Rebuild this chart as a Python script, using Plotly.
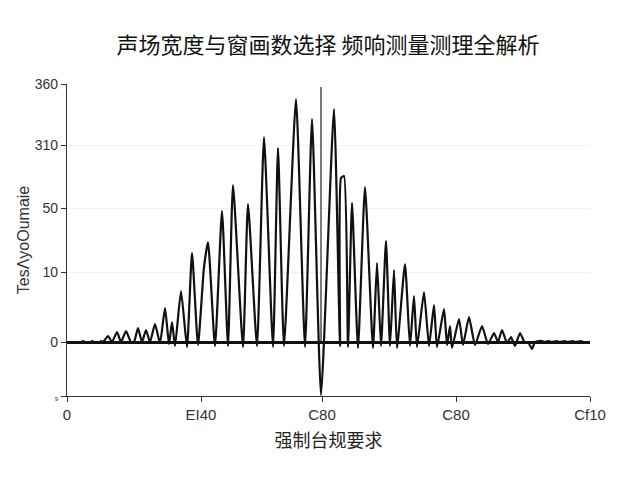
import plotly.graph_objects as go

title_text = "声场宽度与窗画数选择 频响测量测理全解析"
x_title = "强制台规要求"
y_title = "TesΛyoOumaie"

x_vals = [0, 15, 16, 18, 24, 25, 27, 33, 34, 36, 37, 41, 45, 50, 54, 59, 64, 67, 71, 75, 79, 83, 88, 93,
          98, 102, 105, 108, 114, 120, 125, 131, 137, 141, 148, 155, 161, 166, 176, 181, 190, 197, 206,
          211, 217, 229, 238, 245, 254, 267, 273, 274, 277, 281, 285, 291, 298, 306, 310, 314, 319, 323,
          327, 330, 338, 343, 347, 350, 357, 362, 367, 370, 377, 380, 383, 385, 392, 396, 402, 408, 415,
          421, 427, 431, 435, 440, 444, 448, 453, 458, 461, 465, 468, 475, 477, 482, 484, 490, 492, 498,
          500, 506, 508, 514, 516, 523]
y_vals = [0, 0, 1, 0, 0, 1, 0, 0, 1, 0, 1, 6, 0, 10, 0, 11, 0, 0, 14, 0, 12, 0, 18, -1,
          34, -2, 20, -4, 51, -5, 89, -3, 75, 100, -4, 131, -4, 157, -5, 138, -4, 205, -5,
          194, -4, 243, -5, 223, -53, 233, -4, 164, 166, -5, 139, -6, 155, -6, 79, -4, 101, -4,
          72, -6, 78, -4, 46, -5, 50, -4, 37, -5, 33, -3, 16, -6, 23, -3, 25, -3, 16,
          -2, 9, 0, 12, -1, 5, -4, 9, -1, 0, -7, 0, 1, 0, 1, 0, 1, 0, 1,
          0, 1, 0, 1, 0, 0]

marker_x = 254
marker_top = 255

x_tick_vals = [0, 134, 255, 389, 523]
x_tick_text = ["0", "EI40", "C80", "C80", "Cf10"]
y_tick_vals = [-54, 0, 70, 134, 197, 258]
y_tick_text = ["<span style='font-size:6px'>9</span>", "0", "10", "50", "310", "360"]

fig = go.Figure()
fig.add_trace(go.Scatter(
    x=x_vals, y=y_vals, mode="lines",
    line=dict(color="#111111", width=2.2, shape="spline", smoothing=0.5),
    showlegend=False, hoverinfo="skip",
))
fig.add_shape(type="line", x0=marker_x, x1=marker_x, y0=0, y1=marker_top,
              xref="x", yref="y", line=dict(color="#222222", width=1.2))

font_family = "Noto Sans CJK SC, Noto Sans, DejaVu Sans, sans-serif"
tick_family = "Liberation Sans, Arial, sans-serif"
fig.update_layout(
    width=640, height=480,
    paper_bgcolor="white", plot_bgcolor="white",
    margin=dict(l=59, r=58, t=76, b=92, autoexpand=False),
    font=dict(family=font_family, color="#222222"),
    title=dict(text=title_text, x=0.5, xanchor="center", y=0.923, yanchor="middle",
               font=dict(size=22, color="#111111", family=font_family)),
    xaxis=dict(range=[0, 523], tickmode="array", tickvals=x_tick_vals, ticktext=x_tick_text,
               automargin=False,
               showline=True, linecolor="#333333", linewidth=1.2, ticks="outside", ticklen=5,
               tickcolor="#333333", showgrid=False, zeroline=False,
               tickfont=dict(size=15, color="#333333", family=tick_family),
               title=dict(text=x_title, font=dict(size=18, color="#222222"), standoff=12)),
    yaxis=dict(range=[-54, 258], tickmode="array", tickvals=y_tick_vals, ticktext=y_tick_text,
               automargin=False,
               showline=True, linecolor="#333333", linewidth=1.2, ticks="outside", ticklen=5,
               tickcolor="#333333", showgrid=True, gridcolor="#f2f2f2", gridwidth=1,
               zeroline=True, zerolinecolor="#111111", zerolinewidth=2.5,
               tickfont=dict(size=14, color="#333333", family=tick_family),
               title=dict(text=y_title, font=dict(size=16, color="#333333", family=tick_family),
                          standoff=1)),
)

fig.write_html("out.html")
